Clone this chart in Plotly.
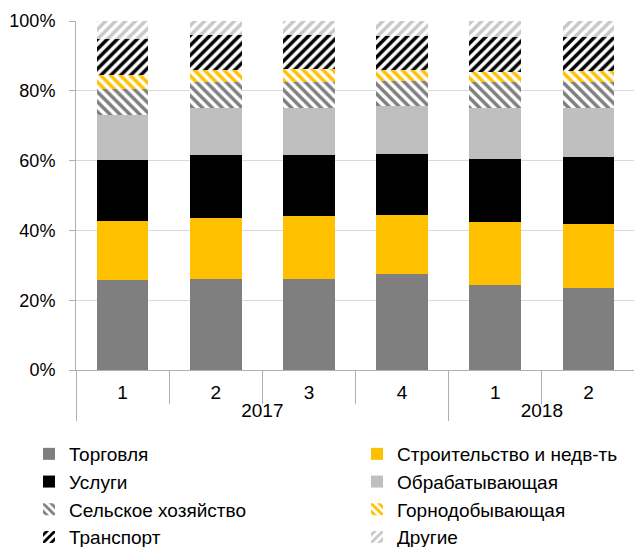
import plotly.graph_objects as go

years = ["2017", "2017", "2017", "2017", "2018", "2018"]
quarters = ["1", "2", "3", "4", "1", "2"]

names = ["Торговля", "Строительство и недв-ть", "Услуги", "Обрабатывающая",
         "Сельское хозяйство", "Горнодобывающая", "Транспорт", "Другие"]

torgovlya = [25.7, 26.2, 26.2, 27.4, 24.5, 23.4]
stroitelstvo = [17.0, 17.4, 17.9, 17.1, 17.8, 18.5]
uslugi = [17.6, 17.9, 17.6, 17.4, 18.2, 19.2]
obrabat = [12.9, 13.5, 13.5, 13.8, 14.5, 13.9]
selskoe = [7.2, 7.4, 7.2, 7.0, 7.4, 7.6]
gorno = [4.2, 3.6, 3.8, 3.3, 3.1, 3.2]
transport = [10.2, 10.1, 9.9, 9.8, 9.8, 9.5]
drugie = [5.2, 3.9, 3.9, 4.2, 4.7, 4.7]

series = [torgovlya, stroitelstvo, uslugi, obrabat, selskoe, gorno, transport, drugie]
colors = ["#7f7f7f", "#ffc000", "#000000", "#bfbfbf", "#7f7f7f", "#ffc000", "#000000", "#c8c8c8"]
patterns = ["", "", "", "", "\\", "\\", "/", "/"]
legend_col = ["legend", "legend2", "legend", "legend2", "legend", "legend2", "legend", "legend2"]

FONT = "Liberation Sans, Arial, sans-serif"
AXC = "#b0b0b0"

# The page adds an 8px body margin, so the figure is drawn 8px smaller.
W, H = 634, 539

fig = go.Figure()
for name, vals, col, pat, lg in zip(names, series, colors, patterns, legend_col):
    marker = dict(color=col, line=dict(width=0))
    if pat:
        marker["pattern"] = dict(shape=pat, fillmode="replace", bgcolor="white",
                                 fgcolor=col, size=7, solidity=0.5)
    fig.add_trace(go.Bar(x=[years, quarters], y=vals, name=name, marker=marker,
                         legend=lg))

leg_common = dict(orientation="v", xref="container", yref="container",
                  xanchor="left", yanchor="top", font=dict(size=19),
                  traceorder="normal", itemclick=False, bgcolor="rgba(0,0,0,0)")

fig.update_layout(
    barmode="stack",
    barnorm="fraction",
    bargap=0.446,
    width=W, height=H,
    margin=dict(l=68, r=7, t=13, b=177, autoexpand=False),
    paper_bgcolor="white", plot_bgcolor="white",
    font=dict(family=FONT, size=19, color="#000000"),
    showlegend=True,
    legend=dict(x=21 / W, y=1 - 427 / H, **leg_common),
    legend2=dict(x=349 / W, y=1 - 427 / H, **leg_common),
)
fig.update_yaxes(range=[0, 1], tickformat=".0%", dtick=0.2, showgrid=True,
                 gridcolor="#d9d9d9", gridwidth=1, showline=True, linecolor=AXC,
                 linewidth=1, ticks="outside", ticklen=6, tickcolor=AXC,
                 zeroline=False, ticklabelstandoff=10, tickfont=dict(size=18),
                 automargin=False)
fig.update_xaxes(type="multicategory", showline=True, linecolor=AXC, linewidth=1,
                 ticks="outside", tickson="boundaries", ticklen=33, tickcolor=AXC,
                 showdividers=True, dividercolor=AXC, dividerwidth=1,
                 tickfont=dict(size=19), ticklabelstandoff=5, automargin=False)

fig.write_html("out.html")
